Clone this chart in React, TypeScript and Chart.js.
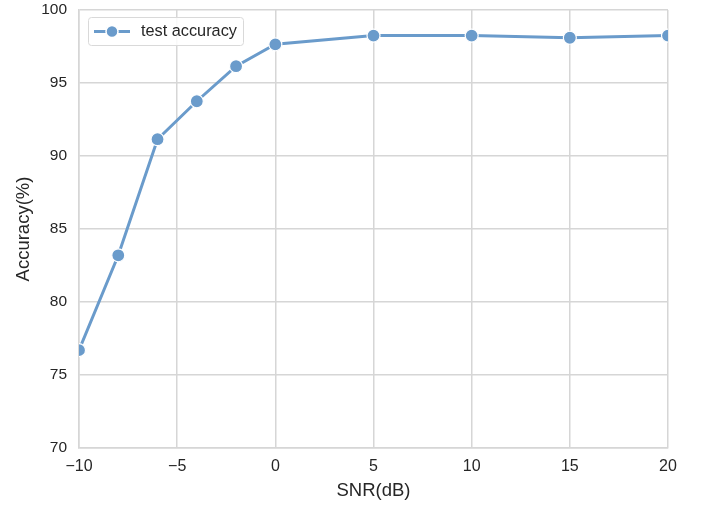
import React, { useEffect, useRef } from "react";
import { Chart, registerables } from "chart.js";

Chart.register(...registerables);

const snrValues = [-10, -8, -6, -4, -2, 0, 5, 10, 15, 20];
const accuracyValues = [76.7, 83.2, 91.15, 93.75, 96.15, 97.65, 98.25, 98.25, 98.1, 98.25];
const seriesLabel = "test accuracy";
const xTicks = [-10, -5, 0, 5, 10, 15, 20];
const yTicks = [70, 75, 80, 85, 90, 95, 100];

const LINE_COLOR = "#6a9bcb";
const GRID_COLOR = "#d6d6d6";
const TEXT_COLOR = "#262626";
const FONT = "'Liberation Sans', Arial, sans-serif";

const legendPlugin = {
  id: "mplLegend",
  afterDraw(chart: any) {
    const ctx = chart.ctx;
    const area = chart.chartArea;
    const x0 = area.left + 9;
    const y0 = area.top + 7;
    const w = 155;
    const h = 28;
    ctx.save();
    ctx.fillStyle = "rgba(255,255,255,0.85)";
    ctx.strokeStyle = "#d9d9d9";
    ctx.lineWidth = 1;
    ctx.beginPath();
    (ctx as any).roundRect(x0 + 0.5, y0 + 0.5, w, h, 3);
    ctx.fill();
    ctx.stroke();
    const ly = y0 + h / 2 + 0.5;
    ctx.strokeStyle = LINE_COLOR;
    ctx.lineWidth = 3;
    ctx.beginPath();
    ctx.moveTo(x0 + 6, ly);
    ctx.lineTo(x0 + 42, ly);
    ctx.stroke();
    ctx.beginPath();
    ctx.arc(x0 + 24, ly, 6, 0, Math.PI * 2);
    ctx.fillStyle = LINE_COLOR;
    ctx.fill();
    ctx.strokeStyle = "#ffffff";
    ctx.lineWidth = 1.5;
    ctx.stroke();
    ctx.fillStyle = TEXT_COLOR;
    ctx.font = `16.3px ${FONT}`;
    ctx.textBaseline = "middle";
    ctx.textAlign = "left";
    ctx.fillText(seriesLabel, x0 + 53, ly);
    ctx.restore();
  },
};

export default function App() {
  const ref = useRef<HTMLCanvasElement | null>(null);
  useEffect(() => {
    if (!ref.current) return;
    const chart = new Chart(ref.current, {
      type: "line",
      data: {
        datasets: [
          {
            label: seriesLabel,
            data: snrValues.map((x, i) => ({ x, y: accuracyValues[i] })),
            borderColor: LINE_COLOR,
            backgroundColor: LINE_COLOR,
            borderWidth: 3,
            pointRadius: 6.5,
            pointBorderColor: "#ffffff",
            pointBorderWidth: 1.2,
            pointBackgroundColor: LINE_COLOR,
            tension: 0,
            clip: 0 as any,
          },
        ],
      },
      options: {
        responsive: false,
        animation: false,
        devicePixelRatio: 1,
        layout: { padding: { top: 10, right: 36, left: 0, bottom: 0 } },
        plugins: { legend: { display: false }, tooltip: { enabled: false } },
        scales: {
          x: {
            type: "linear",
            min: -10,
            max: 20,
            afterBuildTicks: (s: any) => {
              s.ticks = xTicks.map((v) => ({ value: v }));
            },
            afterFit: (s: any) => {
              s.height = 58;
              s.paddingLeft = 0;
              s.paddingRight = 0;
            },
            grid: { color: GRID_COLOR, lineWidth: 1.5, drawTicks: false },
            border: { color: GRID_COLOR, width: 1.5 },
            ticks: {
              padding: 9,
              color: TEXT_COLOR,
              font: { family: FONT, size: 16 },
              maxRotation: 0,
              callback: (v: any) => String(v).replace("-", "\u2212"),
            },
            title: {
              display: true,
              text: "SNR(dB)",
              color: TEXT_COLOR,
              font: { family: FONT, size: 18.5 },
              padding: { top: 0, bottom: 4 },
            },
          },
          y: {
            type: "linear",
            min: 70,
            max: 100,
            afterBuildTicks: (s: any) => {
              s.ticks = yTicks.map((v) => ({ value: v }));
            },
            afterFit: (s: any) => {
              s.width = 79;
              s.paddingTop = 0;
              s.paddingBottom = 0;
            },
            grid: { color: GRID_COLOR, lineWidth: 1.5, drawTicks: false },
            border: { color: GRID_COLOR, width: 1.5 },
            ticks: {
              padding: 12,
              color: TEXT_COLOR,
              font: { family: FONT, size: 15.5 },
            },
            title: {
              display: true,
              text: "Accuracy(%)",
              color: TEXT_COLOR,
              font: { family: FONT, size: 18.5 },
              padding: { top: 13, bottom: 0 },
            },
          },
        },
      },
      plugins: [legendPlugin],
    });
    return () => chart.destroy();
  }, []);
  return (
    <div style={{ position: "fixed", left: 0, top: 0, width: 704, height: 506, background: "#fff" }}>
      <canvas ref={ref} width={704} height={506} style={{ width: 704, height: 506, display: "block" }} />
    </div>
  );
}
